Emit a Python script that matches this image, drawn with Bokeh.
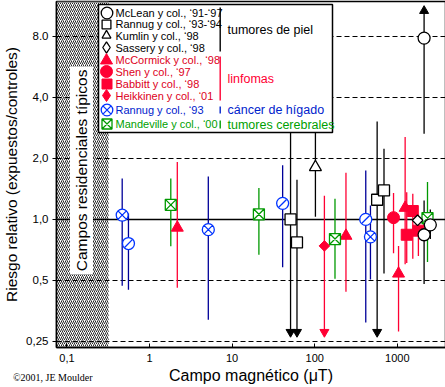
import math
from bokeh.plotting import figure
from bokeh.layouts import column
from bokeh.models import FixedTicker, Label, Legend, LegendItem, BoxAnnotation, Range1d, Div
from bokeh.embed import file_html
from bokeh.resources import INLINE

# ---------------- data ----------------
X_TICKS = [0.1, 1, 10, 100, 1000]
X_TICK_LABELS = ["0,1", "1", "10", "100", "1000"]
Y_TICKS = [0.25, 0.5, 1, 2, 4, 8]
Y_TICK_LABELS = ["0,25", "0,5", "1,0", "2,0", "4,0", "8.0"]
DASHED_LEVELS = [0.25, 0.5, 2, 4, 8]
REFERENCE_LEVEL = [1.0]
RESIDENTIAL_MAX_UT = 0.32

# None in *_lo / *_hi : interval runs off the scale (drawn as an arrow)
mclean_x = [2110, 2510, 2110]
mclean_y = [0.84, 0.94, 7.85]
mclean_lo = [0.48, 0.80, 2.65]
mclean_hi = [1.24, 1.12, None]

rannug9394_x = [51, 61, 570, 690]
rannug9394_y = [1.0, 0.77, 1.25, 1.39]
rannug9394_lo = [None, None, None, 0.54]
rannug9394_hi = [3.4, 1.57, 3.04, 2.23]

kumlin_x = [102]
kumlin_y = [1.81]
kumlin_lo = [1.03]
kumlin_hi = [3.4]

sassery_x = [1760]
sassery_y = [0.99]
sassery_lo = [0.99]
sassery_hi = [0.99]

mccormick_x = [2.17, 239, 1035, 1244]
mccormick_y = [0.91, 0.83, 0.54, 1.14]
mccormick_lo = [0.46, 0.44, 0.28, 0.60]
mccormick_hi = [1.92, 1.70, 0.74, 2.55]

shen_x = [900]
shen_y = [1.02]
shen_lo = [0.68]
shen_hi = [1.35]

babbitt_x = [1300, 1540, 1800]
babbitt_y = [0.84, 1.10, 0.88]
babbitt_lo = [0.61, 0.64, 0.66]
babbitt_hi = [1.36, 1.34, 0.95]

heikkinen_x = [131]
heikkinen_y = [0.74]
heikkinen_lo = [None]
heikkinen_hi = [1.31]

rannug93_x = [0.467, 0.556, 5.15, 40.9, 415, 473]
rannug93_y = [1.05, 0.76, 0.89, 1.20, 1.0, 0.82]
rannug93_lo = [0.47, 0.45, 0.32, 0.58, 0.31, 0.505]
rannug93_hi = [1.59, 1.07, 1.63, 1.85, 1.745, 1.17]
rannug93_slashed = [False, True, False, True, True, False]

mandeville_x = [1.81, 21.1, 176, 2320]
mandeville_y = [1.18, 1.06, 0.80, 1.015]
mandeville_lo = [0.736, 0.67, 0.51, 0.616]
mandeville_hi = [1.59, 1.43, 1.265, 1.53]

GROUP_NAMES = ["tumores de piel", "linfomas", "cáncer de hígado", "tumores cerebrales"]
LEGEND_LABELS = [
    "McLean y col., ‘91-‘97", "Rannug y col., ‘93-‘94", "Kumlin y col., ‘98", "Sassery y col., ‘98",
    "McCormick y col., ‘98", "Shen y col., ‘97", "Babbitt y col., ‘98", "Heikkinen y col., ‘01",
    "Rannug y col., ‘93", "Mandeville y col., ‘00",
]
X_TITLE = "Campo magnético (μT)"
Y_TITLE = "Riesgo relativo (expuestos/controles)"
BAND_TEXT = "Campos residenciales típicos"
CREDIT = "©2001, JE Moulder"

# ---------------- style / layout ----------------
FONT = "Liberation Sans"
BLACK = "#000000"
RED = "#FF0033"
RED_TEXT = "#DD0022"
BLUE = "#0033FF"
NAVY = "#000099"
BLUE_TEXT = "#0022CC"
GREEN = "#009900"
GREEN_TEXT = "#009F00"

FRAME_W, FRAME_H = 389, 346
X_START, X_END = 0.0748, 3832
Y_START, Y_END = 0.2332, 11.9
ARROW_DOWN_Y = 0.278
ARROW_UP_Y = 10.7


def fx_to_x(fx):
    """frame pixel (from left) -> data x"""
    return 10 ** (math.log10(X_START) + fx / FRAME_W * math.log10(X_END / X_START))


def fy_to_y(fy):
    """frame pixel (from top) -> data y"""
    return 10 ** (math.log10(Y_END) - fy / FRAME_H * math.log10(Y_END / Y_START))


p = figure(frame_width=FRAME_W, frame_height=FRAME_H, x_axis_type="log", y_axis_type="log",
           x_range=Range1d(X_START, X_END), y_range=Range1d(Y_START, Y_END),
           output_backend="svg", toolbar_location=None,
           min_border_left=55, min_border_right=1, min_border_top=1, min_border_bottom=40)
p.xgrid.visible = False
p.ygrid.visible = False
p.background_fill_color = "white"
p.border_fill_color = "white"
p.outline_line_color = BLACK
p.outline_line_width = 1.5

for ax in (p.xaxis[0], p.yaxis[0]):
    ax.axis_line_color = BLACK
    ax.axis_line_width = 1.5
    ax.major_tick_line_color = BLACK
    ax.minor_tick_line_color = None
    ax.major_label_text_font = FONT
    ax.major_label_text_color = BLACK
    ax.axis_label_text_font = FONT
    ax.axis_label_text_font_style = "normal"
    ax.axis_label_text_color = BLACK

p.xaxis.ticker = FixedTicker(ticks=X_TICKS)
p.xaxis.major_label_overrides = {t: s for t, s in zip(X_TICKS, X_TICK_LABELS)}
p.xaxis.major_tick_in = 4
p.xaxis.major_tick_out = 0
p.xaxis.major_label_standoff = 6
p.xaxis.major_label_text_font_size = "11px"
p.xaxis.axis_label = X_TITLE
p.xaxis.axis_label_text_font_size = "16px"
p.xaxis.axis_label_standoff = 2

p.yaxis.ticker = FixedTicker(ticks=Y_TICKS)
p.yaxis.major_label_overrides = {t: s for t, s in zip(Y_TICKS, Y_TICK_LABELS)}
p.yaxis.major_tick_in = 0
p.yaxis.major_tick_out = 4
p.yaxis.major_label_standoff = 4
p.yaxis.major_label_text_font_size = "11.5px"
p.yaxis.axis_label = Y_TITLE
p.yaxis.axis_label_text_font_size = "15.5px"
p.yaxis.axis_label_standoff = 3

# residential-field band (hatched)
p.add_layout(BoxAnnotation(right=RESIDENTIAL_MAX_UT, fill_color="white", fill_alpha=1,
                           hatch_pattern="/", hatch_color=BLACK, hatch_scale=4,
                           hatch_weight=0.85, line_color=None, level="underlay"))

# reference lines
p.hspan(y=DASHED_LEVELS, line_color=BLACK, line_width=1, line_dash="5 3")
p.hspan(y=REFERENCE_LEVEL, line_color=BLACK, line_width=1.4)


def intervals(xs, los, his):
    x0, y0, y1, down, up = [], [], [], [], []
    for x, lo, hi in zip(xs, los, his):
        x0.append(x)
        y0.append(ARROW_DOWN_Y if lo is None else lo)
        y1.append(ARROW_UP_Y if hi is None else hi)
        if lo is None:
            down.append(x)
        if hi is None:
            up.append(x)
    return x0, y0, y1, down, up


studies = [
    (mccormick_x, mccormick_y, mccormick_lo, mccormick_hi, RED),
    (shen_x, shen_y, shen_lo, shen_hi, RED),
    (babbitt_x, babbitt_y, babbitt_lo, babbitt_hi, RED),
    (heikkinen_x, heikkinen_y, heikkinen_lo, heikkinen_hi, RED),
    (mandeville_x, mandeville_y, mandeville_lo, mandeville_hi, GREEN),
    (rannug93_x, rannug93_y, rannug93_lo, rannug93_hi, NAVY),
    (mclean_x, mclean_y, mclean_lo, mclean_hi, BLACK),
    (rannug9394_x, rannug9394_y, rannug9394_lo, rannug9394_hi, BLACK),
    (kumlin_x, kumlin_y, kumlin_lo, kumlin_hi, BLACK),
    (sassery_x, sassery_y, sassery_lo, sassery_hi, BLACK),
]
for xs, ys, los, his, col in studies:
    x0, y0, y1, down, up = intervals(xs, los, his)
    p.segment(x0=x0, y0=y0, x1=x0, y1=y1, line_color=col, line_width=1.3)
    head = BLACK if col == NAVY else col
    if down:
        p.scatter(x=down, y=[ARROW_DOWN_Y] * len(down), marker="inverted_triangle",
                  size=9, fill_color=head, line_color=head)
    if up:
        p.scatter(x=up, y=[ARROW_UP_Y] * len(up), marker="triangle",
                  size=9, fill_color=head, line_color=head)

DIAMOND = math.pi / 4
r_mccormick = p.scatter(mccormick_x, mccormick_y, marker="triangle", size=12,
                        fill_color=RED, line_color=RED)
r_shen = p.scatter(shen_x, shen_y, marker="circle", size=12, fill_color=RED, line_color=RED)
r_babbitt = p.scatter(babbitt_x, babbitt_y, marker="square", size=11,
                      fill_color=RED, line_color=RED)
p.scatter(heikkinen_x, heikkinen_y, marker="square", angle=DIAMOND, size=7.5,
          fill_color=RED, line_color=RED)
r_mandeville = p.scatter(mandeville_x, mandeville_y, marker="square_x", size=11,
                         fill_color="white", line_color=GREEN, line_width=1.3)

x_cross = [x for x, s in zip(rannug93_x, rannug93_slashed) if not s]
y_cross = [y for y, s in zip(rannug93_y, rannug93_slashed) if not s]
x_slash = [x for x, s in zip(rannug93_x, rannug93_slashed) if s]
y_slash = [y for y, s in zip(rannug93_y, rannug93_slashed) if s]
r_rannug93 = p.scatter(x_cross, y_cross, marker="circle_x", size=12,
                       fill_color="white", line_color=BLUE, line_width=1.3)
p.scatter(x_slash, y_slash, marker="circle", size=12,
          fill_color="white", line_color=BLUE, line_width=1.3)
p.scatter(x_slash, y_slash, marker="dash", angle=DIAMOND, size=11,
          line_color=BLUE, line_width=1.3)

r_mclean = p.scatter(mclean_x, mclean_y, marker="circle", size=12,
                     fill_color="white", line_color=BLACK, line_width=1.3)
r_rannug9394 = p.scatter(rannug9394_x, rannug9394_y, marker="square", size=11,
                         fill_color="white", line_color=BLACK, line_width=1.3)
r_kumlin = p.scatter(kumlin_x, kumlin_y, marker="triangle", size=12,
                     fill_color="white", line_color=BLACK, line_width=1.3)
p.scatter(sassery_x, sassery_y, marker="square", angle=DIAMOND, size=7.5,
          fill_color="white", line_color=BLACK, line_width=1.3)

# legend keys for the rotated-square (diamond) series (hidden in the plot itself)
r_sassery_key = p.scatter(sassery_x, sassery_y, marker="diamond", fill_color="white",
                          line_color=BLACK, line_width=1.3, visible=False)
r_heikkinen_key = p.scatter(heikkinen_x, heikkinen_y, marker="diamond",
                            fill_color=RED, line_color=RED, visible=False)

# band label
p.add_layout(Label(x=0.15, y=1.745, text=BAND_TEXT, angle=math.pi / 2,
                   text_align="center", text_baseline="middle",
                   text_font=FONT, text_font_size="15.5px", text_color=BLACK,
                   background_fill_color="white", padding=3))

# legend box (frame pixels: x from left, y from top), drawn above the data glyphs
BOX_L, BOX_R, BOX_T, BOX_B = 42, 276, 3, 131
p.quad(left=[fx_to_x(BOX_L)], right=[fx_to_x(BOX_R)], top=[fy_to_y(BOX_T)],
       bottom=[fy_to_y(BOX_B)], fill_color="white", line_color=BLACK, line_width=1.5)

# group brackets
BAR_X = 163
group_spans = [(6, 50), (55, 99), (105, 112), (119, 127)]
group_label_y = [28, 77, 108, 123]
group_colors = [BLACK, RED, BLUE_TEXT, GREEN_TEXT]
p.quad(left=[fx_to_x(BAR_X)] * 4, right=[fx_to_x(BAR_X + 1.4)] * 4,
       top=[fy_to_y(t) for t, b in group_spans], bottom=[fy_to_y(b) for t, b in group_spans],
       fill_color=group_colors, line_color=None)

# legend rows: symbol through a Legend, text through a Label
LEG_MARKER_X, LEG_LABEL_X = 50, 59
row_tops = [11, 22.5, 34, 46, 58.5, 70, 82, 94, 108, 122]
row_renderers = [r_mclean, r_rannug9394, r_kumlin, r_sassery_key,
                 r_mccormick, r_shen, r_babbitt, r_heikkinen_key, r_rannug93, r_mandeville]
row_colors = [BLACK] * 4 + [RED_TEXT] * 4 + [BLUE_TEXT, GREEN_TEXT]
row_glyph = [29, 22, 22, 28, 30, 30, 25, 30, 29, 25]
for lab, r, col, fy, g in zip(LEGEND_LABELS, row_renderers, row_colors, row_tops, row_glyph):
    leg = Legend(items=[LegendItem(label=" ", renderers=[r])],
                 location=(LEG_MARKER_X - g / 2, FRAME_H - fy - g / 2),
                 glyph_width=g, glyph_height=g, label_height=g, label_width=0,
                 label_standoff=0, padding=0, margin=0, spacing=0,
                 border_line_color=None, background_fill_alpha=0,
                 inactive_fill_alpha=0, label_text_font_size="1px")
    p.add_layout(leg, "center")
    p.add_layout(Label(x=LEG_LABEL_X, y=FRAME_H - fy, x_units="screen", y_units="screen",
                       text=lab, text_font=FONT, text_font_size="11px", text_color=col,
                       text_baseline="middle", text_align="left"))

for name, gy, col in zip(GROUP_NAMES, group_label_y, group_colors):
    p.add_layout(Label(x=BAR_X + 8, y=FRAME_H - gy, x_units="screen", y_units="screen",
                       text=name, text_font=FONT, text_font_size="12.5px", text_color=col,
                       text_baseline="middle", text_align="left"))

credit = Div(text=CREDIT, width=120, height=12, margin=(-15, 0, 0, 13),
             styles={"font-family": "Liberation Serif", "font-size": "10px",
                     "color": "black", "line-height": "12px"})

open("out.html", "w").write(file_html(column(p, credit, spacing=0), INLINE))
